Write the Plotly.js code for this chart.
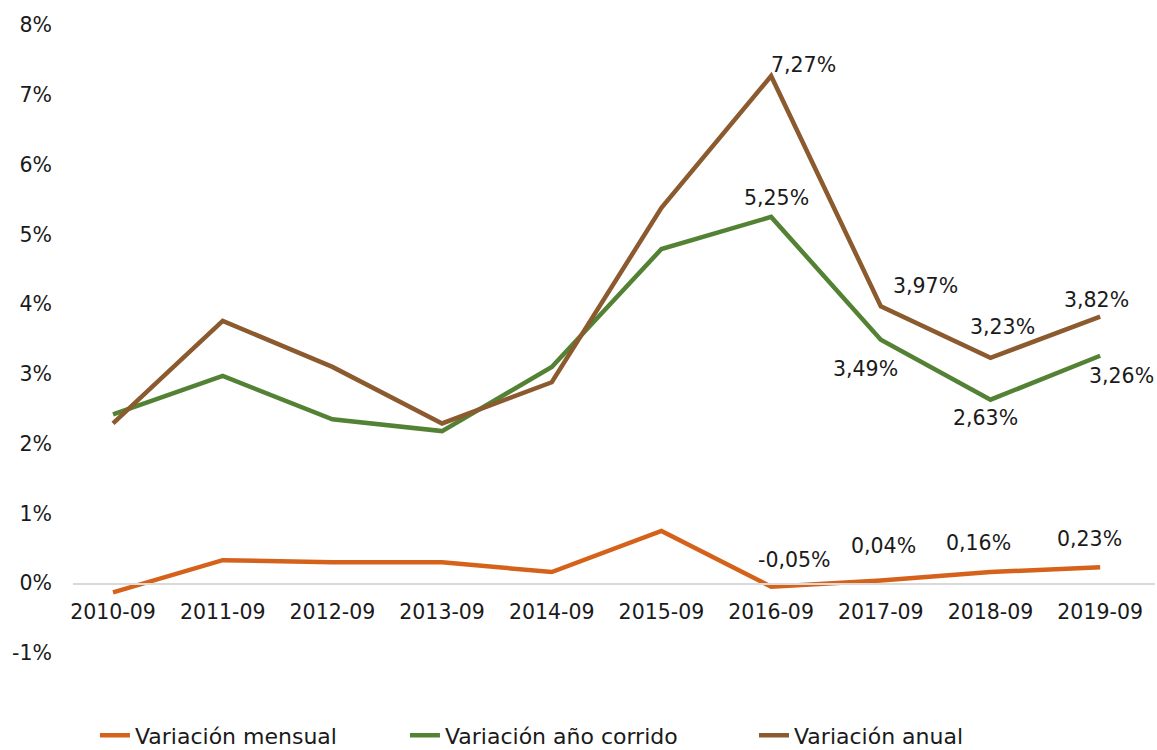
<!DOCTYPE html>
<html>
<head>
<meta charset="utf-8">
<script src="https://cdn.plot.ly/plotly-3.0.1.min.js"></script>
<style>html,body{margin:0;padding:0;background:#fff;}#chart{width:1157px;height:750px;}</style>
</head>
<body>
<div id="chart"></div>
<script>
const categories = ["2010-09","2011-09","2012-09","2013-09","2014-09","2015-09","2016-09","2017-09","2018-09","2019-09"];
const mensual = [-0.13, 0.33, 0.30, 0.30, 0.16, 0.75, -0.05, 0.04, 0.16, 0.23];
const anoCorrido = [2.42, 2.97, 2.35, 2.18, 3.10, 4.79, 5.25, 3.49, 2.63, 3.26];
const anual = [2.29, 3.76, 3.10, 2.29, 2.88, 5.38, 7.27, 3.97, 3.23, 3.82];
const yTickVals = [-1,0,1,2,3,4,5,6,7,8];
const yTickText = ["-1%","0%","1%","2%","3%","4%","5%","6%","7%","8%"];
const labeledIdx = [6,7,8,9];

// label pixel offsets (style only) for labelled points 2016..2019
const mensualOff = [[23,-27],[3,-34],[-12,-29],[-11,-28]];
const corridoOff = [[5,-19],[-15,29],[-5,18],[21,20]];
const anualOff   = [[32,-11],[45,-20],[12,-31],[-4,-17]];

function fmt(v){ return v.toFixed(2).replace('.', ',') + '%'; }

const font = "DejaVu Sans, sans-serif";
const fs = 20.5;
const txtColor = "#1a1a1a";

function makeAnn(arr, offs){
  return labeledIdx.map((i,k)=>({
    x: categories[i], y: arr[i], xref: "x", yref: "y",
    text: fmt(arr[i]), showarrow: false,
    xanchor: "center", yanchor: "middle",
    xshift: offs[k][0], yshift: -offs[k][1],
    font: {family: font, size: fs, color: txtColor}
  }));
}

const colors = {mensual: "#D5621A", corrido: "#548235", anual: "#8B5A2E"};

const traces = [
  {x: categories, y: mensual, name: "Variación mensual", mode: "lines", line: {color: colors.mensual, width: 4.5}, legend: "legend", hoverinfo: "skip"},
  {x: categories, y: anoCorrido, name: "Variación año corrido", mode: "lines", line: {color: colors.corrido, width: 4.5}, legend: "legend2", hoverinfo: "skip"},
  {x: categories, y: anual, name: "Variación anual", mode: "lines", line: {color: colors.anual, width: 4.5}, legend: "legend3", hoverinfo: "skip"}
];

const legFont = {family: font, size: 22, color: txtColor};
const legBase = {orientation: "h", xanchor: "left", yanchor: "top", y: -0.098, font: legFont, bgcolor: "rgba(0,0,0,0)"};

const layout = {
  width: 1157, height: 750,
  margin: {l: 73, r: 2, t: 25, b: 97, autoexpand: false},
  paper_bgcolor: "#ffffff", plot_bgcolor: "rgba(0,0,0,0)",
  font: {family: font, size: fs, color: txtColor},
  showlegend: true,
  legend: Object.assign({}, legBase, {x: 0.0203}),
  legend2: Object.assign({}, legBase, {x: 0.3068}),
  legend3: Object.assign({}, legBase, {x: 0.6294}),
  xaxis: {type: "category", range: [-0.365, 9.5], anchor: "free", position: 1/9, showline: true, linecolor: "#d9d9d9", linewidth: 1.5, showgrid: false, zeroline: false, ticks: "", tickfont: {family: font, size: fs, color: txtColor}, ticklabelstandoff: 10, fixedrange: true, automargin: false},
  yaxis: {range: [-1, 8], tickvals: yTickVals, ticktext: yTickText, showgrid: false, zeroline: false, showline: false, ticks: "", ticklabelstandoff: 20, tickfont: {family: font, size: fs, color: txtColor}, fixedrange: true, automargin: false},
  annotations: [].concat(makeAnn(mensual, mensualOff), makeAnn(anoCorrido, corridoOff), makeAnn(anual, anualOff))
};

Plotly.newPlot("chart", traces, layout, {displayModeBar: false, staticPlot: true});
</script>
</body>
</html>
